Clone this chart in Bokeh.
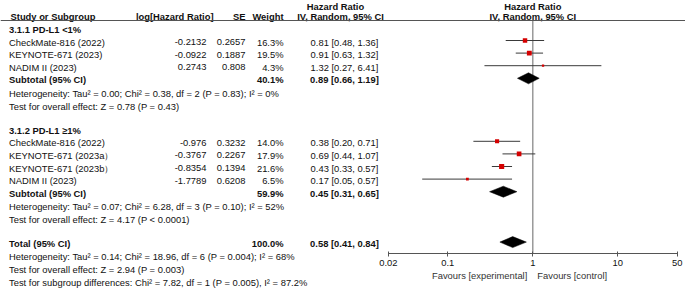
import numpy as np
from bokeh.plotting import figure
from bokeh.models import Range1d, ColumnDataSource, FixedTicker, Span, LogAxis, LogScale
from bokeh.embed import file_html
from bokeh.resources import INLINE
from bokeh.core.properties import value

# ---------------- data ----------------
group_titles = ["3.1.1 PD-L1 <1%", "3.1.2 PD-L1 \u22651%"]

g1_studies = ["CheckMate-816 (2022)", "KEYNOTE-671 (2023)", "NADIM II (2023)"]
g1_log_hr = [-0.2132, -0.0922, 0.2743]
g1_se = [0.2657, 0.1887, 0.808]
g1_weight = [16.3, 19.5, 4.3]
g1_hr = [0.81, 0.91, 1.32]
g1_lo = [0.48, 0.63, 0.27]
g1_hi = [1.36, 1.32, 6.41]
g1_sub = [40.1, 0.89, 0.66, 1.19]   # weight, hr, lo, hi
g1_het = "Heterogeneity: Tau\u00b2 = 0.00; Chi\u00b2 = 0.38, df = 2 (P = 0.83); I\u00b2 = 0%"
g1_test = "Test for overall effect: Z = 0.78 (P = 0.43)"

g2_studies = ["CheckMate-816 (2022)", "KEYNOTE-671 (2023a\uff09", "KEYNOTE-671 (2023b\uff09", "NADIM II (2023)"]
g2_log_hr = [-0.976, -0.3767, -0.8354, -1.7789]
g2_se = [0.3232, 0.2267, 0.1394, 0.6208]
g2_weight = [14.0, 17.9, 21.6, 6.5]
g2_hr = [0.38, 0.69, 0.43, 0.17]
g2_lo = [0.20, 0.44, 0.33, 0.05]
g2_hi = [0.71, 1.07, 0.57, 0.57]
g2_sub = [59.9, 0.45, 0.31, 0.65]
g2_het = "Heterogeneity: Tau\u00b2 = 0.07; Chi\u00b2 = 6.28, df = 3 (P = 0.10); I\u00b2 = 52%"
g2_test = "Test for overall effect: Z = 4.17 (P < 0.0001)"

total_vals = [100.0, 0.58, 0.41, 0.84]
total_het = "Heterogeneity: Tau\u00b2 = 0.14; Chi\u00b2 = 18.96, df = 6 (P = 0.004); I\u00b2 = 68%"
total_test = "Test for overall effect: Z = 2.94 (P = 0.003)"
subgroup_test = "Test for subgroup differences: Chi\u00b2 = 7.82, df = 1 (P = 0.005), I\u00b2 = 87.2%"

axis_ticks = [0.02, 0.1, 1, 10, 50]
axis_tick_labels = ["0.02", "0.1", "1", "10", "50"]
fav_left = "Favours [experimental]"
fav_right = "Favours [control]"

# ---------------- layout constants ----------------
FONT = "Liberation Sans"
FS = "9.4px"
TXT = "#111111"
W, H = 685, 288
ROW0, PITCH, NOTE_PITCH, FOOT_PITCH = 27.4, 12.6, 13.2, 13.1
TEXT_DY = 1.5
X_STUDY, X_LOG, X_SE, X_W, X_CI = 8.5, 206, 245, 283, 344
AXIS_Y = 253
PX_PER_DEC = 85.0
X_ONE = 532.3          # pixel column of HR = 1

def ry(r):
    return ROW0 + PITCH * r

tx, ty, tt, ta, ts = [], [], [], [], []
def add(x, y, t, align="left", style="normal"):
    tx.append(x); ty.append(y + TEXT_DY); tt.append(t); ta.append(align); ts.append(style)

st_hr, st_lo, st_hi, st_w, st_y = [], [], [], [], []
dm_xs, dm_ys = [], []

def diamond(vals, y):
    _, hr, lo, hi = vals
    dm_xs.append([lo, hr, hi, hr])
    dm_ys.append([y, y - 5.5, y, y + 5.5])

groups = [
    (group_titles[0], g1_studies, g1_log_hr, g1_se, g1_weight, g1_hr, g1_lo, g1_hi, g1_sub, g1_het, g1_test),
    (group_titles[1], g2_studies, g2_log_hr, g2_se, g2_weight, g2_hr, g2_lo, g2_hi, g2_sub, g2_het, g2_test),
]

r = 0
for title, studies, lhr, se, w, hr, lo, hi, sub, het, test in groups:
    add(X_STUDY, ry(r), title, style="bold"); r += 1
    for i in range(len(studies)):
        y = ry(r)
        add(X_STUDY, y, studies[i])
        add(X_LOG, y, str(lhr[i]), "right")
        add(X_SE, y, str(se[i]), "right")
        add(X_W, y, f"{w[i]:.1f}%", "right")
        add(X_CI, y, f"{hr[i]:.2f} [{lo[i]:.2f}, {hi[i]:.2f}]", "center")
        st_hr.append(hr[i]); st_lo.append(lo[i]); st_hi.append(hi[i]); st_w.append(w[i]); st_y.append(y)
        r += 1
    ys = ry(r)
    add(X_STUDY, ys, "Subtotal (95% CI)", style="bold")
    add(X_W, ys, f"{sub[0]:.1f}%", "right", "bold")
    add(X_CI, ys, f"{sub[1]:.2f} [{sub[2]:.2f}, {sub[3]:.2f}]", "center", "bold")
    diamond(sub, ys)
    add(X_STUDY, ys + NOTE_PITCH, het)
    add(X_STUDY, ys + 2 * NOTE_PITCH, test)
    r += 4

yt = ry(r)
add(X_STUDY, yt, "Total (95% CI)", style="bold")
add(X_W, yt, f"{total_vals[0]:.1f}%", "right", "bold")
add(X_CI, yt, f"{total_vals[1]:.2f} [{total_vals[2]:.2f}, {total_vals[3]:.2f}]", "center", "bold")
diamond(total_vals, yt)
for k, t in enumerate([total_het, total_test, subgroup_test]):
    add(X_STUDY, yt + FOOT_PITCH * (k + 1), t)

# column headers
HDR1, HDR2 = 5.5, 16.3
add(10, HDR2 - TEXT_DY, "Study or Subgroup", "left", "bold")
add(213, HDR2 - TEXT_DY, "log[Hazard Ratio]", "right", "bold")
add(X_SE, HDR2 - TEXT_DY, "SE", "right", "bold")
add(X_W, HDR2 - TEXT_DY, "Weight", "right", "bold")
add(335, HDR1 - TEXT_DY, "Hazard Ratio", "center", "bold")
add(340, HDR2 - TEXT_DY, "IV, Random, 95% CI", "center", "bold")

# ---------------- figure ----------------
lo_log = -X_ONE / PX_PER_DEC
hi_log = (W - X_ONE) / PX_PER_DEC
p = figure(width=W, height=H, x_range=Range1d(0, W), y_range=Range1d(H, 0),
           x_axis_location=None, y_axis_location=None, output_backend="svg",
           toolbar_location=None, min_border=0)
p.extra_x_ranges = {"hr": Range1d(10 ** lo_log, 10 ** hi_log)}
p.extra_x_scales = {"hr": LogScale()}
p.grid.visible = False
p.outline_line_color = None

src = ColumnDataSource(dict(x=tx, y=ty, text=tt, align=ta, style=ts))
p.text(x="x", y="y", text="text", source=src, text_align="align", text_font_style="style",
       text_baseline="middle", text_font=value(FONT), text_font_size=value(FS), text_color=TXT)
p.add_layout(Span(location=20, dimension="width", line_color="#555555", line_width=1))

# forest axis
ax = LogAxis(x_range_name="hr", ticker=FixedTicker(ticks=axis_ticks, minor_ticks=[]),
             bounds=(axis_ticks[0], axis_ticks[-1]), fixed_location=AXIS_Y,
             major_label_overrides={t: l for t, l in zip(axis_ticks, axis_tick_labels)})
ax.axis_line_color = "#555555"
ax.major_tick_line_color = "#555555"
ax.major_tick_in = 2
ax.major_tick_out = 3
ax.minor_tick_line_color = None
ax.major_label_standoff = 3
ax.major_label_text_font = FONT
ax.major_label_text_font_size = FS
ax.major_label_text_color = TXT
p.add_layout(ax, "below")

# line of no effect
p.segment(x0=[1], y0=[20], x1=[1], y1=[AXIS_Y], x_range_name="hr", line_color="#8a8a8a", line_width=1.3)

fsrc = ColumnDataSource(dict(hr=st_hr, lo=st_lo, hi=st_hi, y=st_y, size=list(np.sqrt(st_w) * 1.1)))
p.segment(x0="lo", y0="y", x1="hi", y1="y", source=fsrc, x_range_name="hr",
          line_color="#3a3a3a", line_width=1)
p.scatter(x="hr", y="y", size="size", marker="square", source=fsrc, x_range_name="hr",
          fill_color="#d40000", line_color=None)
p.patches(xs=dm_xs, ys=dm_ys, x_range_name="hr", fill_color="black", line_color="black", line_width=0.5)

p.text(x=[1, 1], y=[HDR1, HDR2], text=["Hazard Ratio", "IV, Random, 95% CI"], x_range_name="hr",
       text_align="center", text_baseline="middle", text_font_style="bold",
       text_font=value(FONT), text_font_size=value(FS), text_color=TXT)

FAV_Y = 274.5
p.text(x=[1], y=[FAV_Y], text=[fav_left], x_range_name="hr", x_offset=-5.5, text_align="right",
       text_baseline="middle", text_font=value(FONT), text_font_size=value(FS), text_color="#333333")
p.text(x=[1], y=[FAV_Y], text=[fav_right], x_range_name="hr", x_offset=4.5, text_align="left",
       text_baseline="middle", text_font=value(FONT), text_font_size=value(FS), text_color="#333333")

open("out.html", "w").write(file_html(p, INLINE))
